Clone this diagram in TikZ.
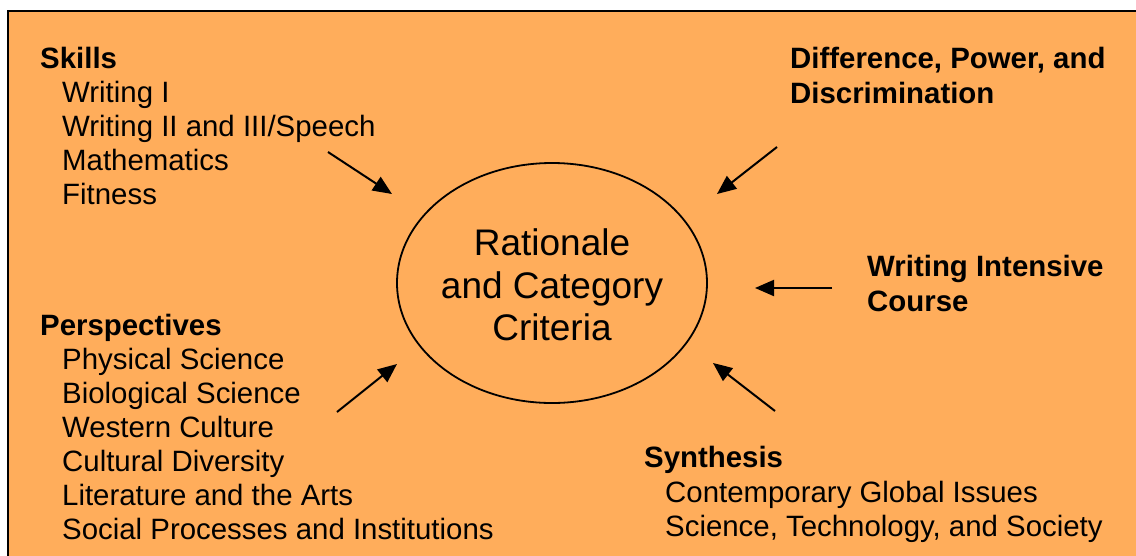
\documentclass[tikz,border=0pt]{standalone}
\usepackage{fontspec}
\setmainfont{Liberation Sans}
\usetikzlibrary{arrows.meta}
\definecolor{bgorange}{HTML}{FFAD5B}
\begin{document}
\begin{tikzpicture}[x=1pt,y=-1pt,
  head/.style={font=\bfseries\fontsize{29.4}{34}\selectfont, anchor=base west, inner sep=0pt},
  item/.style={font=\fontsize{29.4}{34}\selectfont, anchor=base west, inner sep=0pt},
  ctr/.style={font=\fontsize{37}{42}\selectfont, anchor=base, inner sep=0pt},
  arr/.style={line width=2pt, -{Triangle[length=19pt,width=16pt]}}]
\clip (0,0) rectangle (1136,555);
\useasboundingbox (0,0) rectangle (1136,555);
\fill[white] (0,0) rectangle (1136,555);
\draw[line width=2pt, fill=bgorange] (8,11) rectangle (1150,570);

% central ellipse
\coordinate (ell) at (552,283);
\draw[line width=1.8pt] (ell) ellipse [x radius=155pt, y radius=120pt];
\node[ctr] (c1) at (552,255) {Rationale};
\node[ctr] (c2) at (552,298) {and Category};
\node[ctr] (c3) at (552,340) {Criteria};

% Skills
\node[head] (sk) at (40,68) {Skills};
\node[item] (sk1) at (62,102) {Writing I};
\node[item] (sk2) at (62,136) {Writing II and III/Speech};
\node[item] (sk3) at (62,170) {Mathematics};
\node[item] (sk4) at (62,204) {Fitness};

% Perspectives
\node[head] (pe) at (40,335) {Perspectives};
\node[item] (pe1) at (62,369) {Physical Science};
\node[item] (pe2) at (62,403) {Biological Science};
\node[item] (pe3) at (62,437) {Western Culture};
\node[item] (pe4) at (62,471) {Cultural Diversity};
\node[item] (pe5) at (62,505) {Literature and the Arts};
\node[item] (pe6) at (62,539) {Social Processes and Institutions};

% Difference
\node[head] (di1) at (790,68) {Difference, Power, and};
\node[head] (di2) at (790,103) {Discrimination};

% Writing Intensive
\node[head] (wi1) at (867,276) {Writing Intensive};
\node[head] (wi2) at (867,311) {Course};

% Synthesis
\node[head] (sy) at (644,467) {Synthesis};
\node[item] (sy1) at (665,502) {Contemporary Global Issues};
\node[item] (sy2) at (665,536) {Science, Technology, and Society};

% arrows
\coordinate (t1) at (328,152); \coordinate (h1) at (392,194);
\coordinate (t2) at (777,147); \coordinate (h2) at (717,194);
\coordinate (t3) at (832,288); \coordinate (h3) at (755,288);
\coordinate (t4) at (337,412); \coordinate (h4) at (397,364);
\coordinate (t5) at (775,411); \coordinate (h5) at (713,363);
\draw[arr] (t1) -- (h1);
\draw[arr] (t2) -- (h2);
\draw[arr] (t3) -- (h3);
\draw[arr] (t4) -- (h4);
\draw[arr] (t5) -- (h5);
\end{tikzpicture}
\end{document}
